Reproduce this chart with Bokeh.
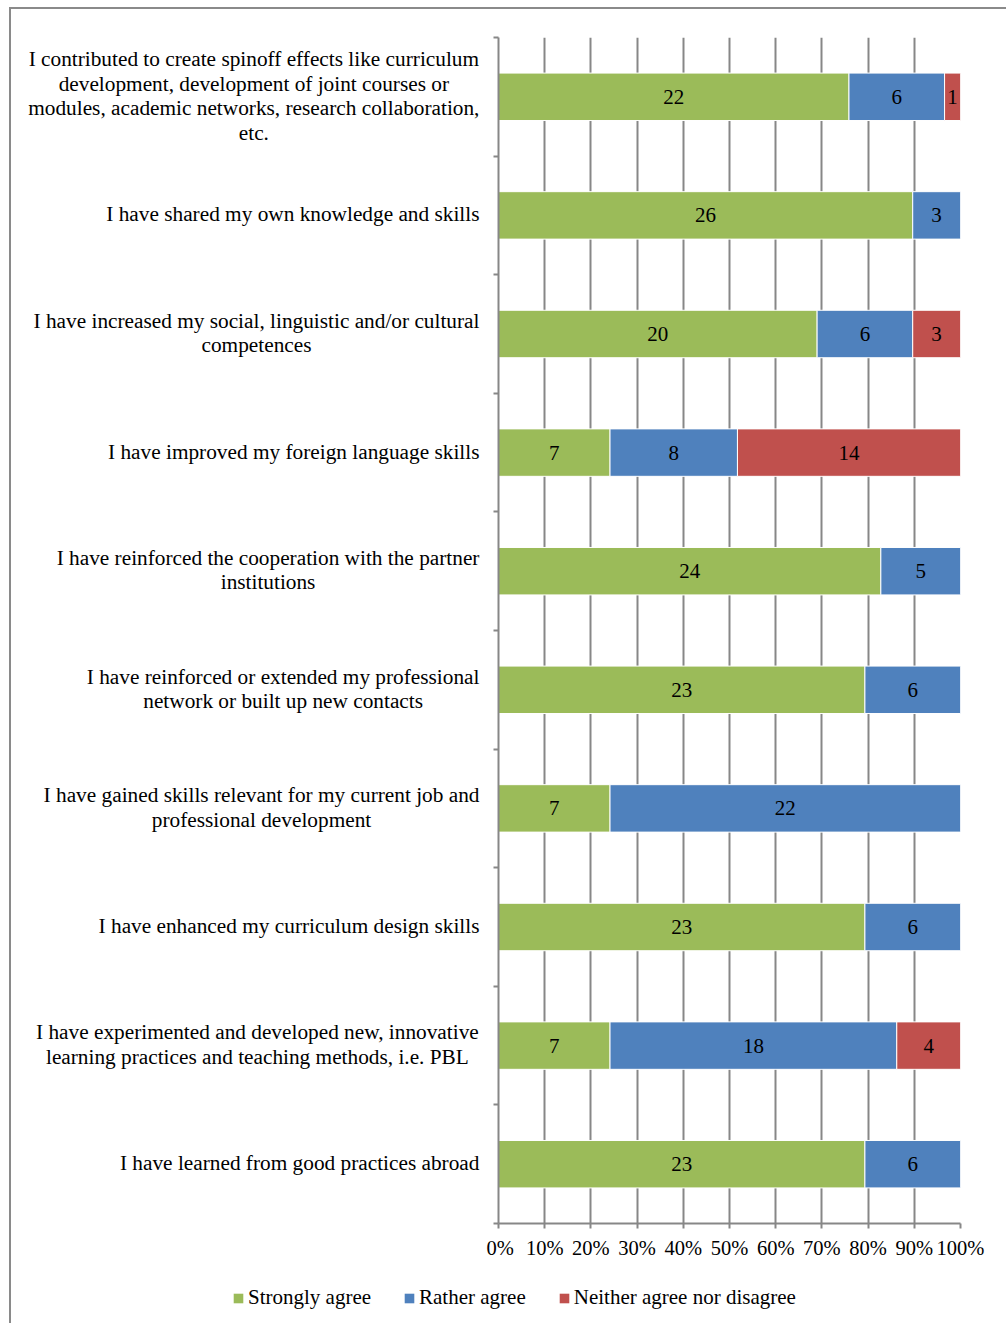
from bokeh.plotting import figure
from bokeh.layouts import row, column
from bokeh.models import (Range1d, FixedTicker, LinearAxis, Legend, LegendItem,
                          ColumnDataSource, NumeralTickFormatter)
from bokeh.core.properties import value
from bokeh.embed import file_html
from bokeh.resources import INLINE

categories = [
    "I contributed to create spinoff effects like curriculum\ndevelopment, development of joint courses or\nmodules, academic networks, research collaboration,\netc.",
    "I have shared my own knowledge and skills",
    "I have increased my social, linguistic and/or cultural\ncompetences",
    "I have improved my foreign language skills",
    "I have reinforced the cooperation with the partner\ninstitutions",
    "I have reinforced or extended my professional\nnetwork or built up new contacts",
    "I have gained skills relevant for my current job and\nprofessional development",
    "I have enhanced my curriculum design skills",
    "I have experimented and developed new, innovative\nlearning practices and teaching methods, i.e. PBL",
    "I have learned from good practices abroad",
]
strongly_agree = [22, 26, 20, 7, 24, 23, 7, 23, 7, 23]
rather_agree = [6, 3, 6, 8, 5, 6, 22, 6, 18, 6]
neither = [1, 0, 3, 14, 0, 0, 0, 0, 4, 0]
series_names = ["Strongly agree", "Rather agree", "Neither agree nor disagree"]
colors = ["#9BBB59", "#4F81BD", "#C0504D"]
x_ticks = [0, 0.1, 0.2, 0.3, 0.4, 0.5, 0.6, 0.7, 0.8, 0.9, 1.0]

FONT = "Liberation Serif"
LABEL_PX = 21.3
GRID = "#878787"

# Times/Liberation Serif advance widths (per 1000 em) used to centre-justify wrapped labels
_W = dict(zip("abcdefghijklmnopqrstuvwxyz",
              [444, 500, 444, 500, 444, 333, 500, 500, 278, 278, 500, 278, 778,
               500, 500, 500, 500, 333, 389, 278, 500, 500, 722, 500, 500, 444]))
_W.update(dict(zip("ABCDEFGHIJKLMNOPQRSTUVWXYZ",
                   [722, 667, 667, 722, 611, 556, 722, 722, 333, 389, 722, 611, 889,
                    722, 722, 556, 722, 667, 556, 611, 722, 722, 944, 722, 722, 611])))
_W.update({" ": 250, ",": 250, ".": 250, "/": 278, "-": 333})


def text_width(s, px):
    return sum(_W.get(ch, 500) for ch in s) * px / 1000.0


n = len(categories)
ypos = [2 * i + 1 for i in range(n)]
totals = [a + b + c for a, b, c in zip(strongly_agree, rather_agree, neither)]
series = [strongly_agree, rather_agree, neither]

TOP, BOTTOM = 28, 50
FRAME_H = 1186
ROW_H = TOP + FRAME_H + BOTTOM
yr = Range1d(2 * n, 0)

# ---- main chart
p = figure(width=520, height=ROW_H, output_backend="svg", toolbar_location=None,
           x_range=Range1d(0, 1), y_range=yr,
           min_border_left=12, min_border_right=46, min_border_top=TOP,
           min_border_bottom=BOTTOM, x_axis_location=None, y_axis_location=None)
p.outline_line_color = None
p.ygrid.visible = False

sources = []
left = [0.0] * n
for vals, name, col in zip(series, series_names, colors):
    frac = [v / t for v, t in zip(vals, totals)]
    right = [l + f for l, f in zip(left, frac)]
    keep = [i for i, v in enumerate(vals) if v > 0]
    src = ColumnDataSource(dict(y=[ypos[i] for i in keep], left=[left[i] for i in keep],
                                right=[right[i] for i in keep],
                                mid=[(left[i] + right[i]) / 2 for i in keep],
                                lab=[str(vals[i]) for i in keep]))
    p.hbar(y="y", left="left", right="right", height=0.8, source=src,
           fill_color=col, line_color="white", line_width=1)
    p.text(x="mid", y="y", text="lab", source=src, text_align="center",
           text_baseline="middle", text_font=value(FONT),
           text_font_size="21px", text_color="black")
    sources.append(src)
    left = right

p.xgrid.ticker = FixedTicker(ticks=x_ticks)
p.xgrid.grid_line_color = GRID
p.xgrid.grid_line_width = 2

xaxis = LinearAxis(ticker=FixedTicker(ticks=x_ticks),
                   formatter=NumeralTickFormatter(format="0%"))
xaxis.axis_line_color = GRID
xaxis.axis_line_width = 2
xaxis.major_tick_line_color = GRID
xaxis.major_tick_line_width = 2
xaxis.major_tick_out = 5
xaxis.major_tick_in = 0
xaxis.minor_tick_line_color = None
xaxis.major_label_text_font = FONT
xaxis.major_label_text_font_size = "20.5px"
xaxis.major_label_text_color = "black"
xaxis.major_label_standoff = 8
p.add_layout(xaxis, "below")

yaxis = LinearAxis(ticker=FixedTicker(ticks=[], minor_ticks=list(range(0, 2 * n + 1, 2))))
yaxis.major_label_standoff = 0
yaxis.axis_line_color = GRID
yaxis.axis_line_width = 2
yaxis.major_tick_line_color = None
yaxis.major_tick_out = 0
yaxis.major_tick_in = 0
yaxis.minor_tick_line_color = GRID
yaxis.minor_tick_line_width = 2
yaxis.minor_tick_out = 5
yaxis.minor_tick_in = 0
p.add_layout(yaxis, "left")

# ---- category labels (centre-justified lines, block right-aligned against the axis)
lab = figure(width=475, height=ROW_H, output_backend="svg", toolbar_location=None,
             x_range=Range1d(0, 1), y_range=yr,
             min_border_left=0, min_border_right=0, min_border_top=TOP,
             min_border_bottom=BOTTOM, x_axis_location=None, y_axis_location=None)
lab.outline_line_color = None
lab.grid.visible = False
line_gap = 24.5 * (2 * n) / FRAME_H
lx, ly, lt, loff = [], [], [], []
for yc, cat in zip(ypos, categories):
    lines = cat.split("\n")
    block_w = max(text_width(s, LABEL_PX) for s in lines)
    k = len(lines)
    for j, s in enumerate(lines):
        lx.append(1)
        ly.append(yc + (j - (k - 1) / 2) * line_gap)
        lt.append(s)
        loff.append(-(7 + block_w / 2))
lab.text(x="x", y="y", text="t", x_offset="off", y_offset=-1,
         source=ColumnDataSource(dict(x=lx, y=ly, t=lt, off=loff)),
         text_align="center", text_baseline="middle", text_font=value(FONT),
         text_font_size=f"{LABEL_PX}px", text_color="black")

# ---- legend strip (swatches come from hidden copies of the bar renderers)
g = figure(width=995, height=50, output_backend="svg", toolbar_location=None,
           x_range=Range1d(0, 1), y_range=Range1d(2 * n, 0),
           min_border_left=0, min_border_right=0, min_border_top=0,
           min_border_bottom=0, x_axis_location=None, y_axis_location=None)
g.outline_line_color = None
g.grid.visible = False
leg_r = []
for src, col in zip(sources, colors):
    leg_r.append(g.hbar(y="y", left="left", right="right", height=0.8, source=src,
                        fill_color=col, line_color=None, visible=False))
legend = Legend(items=[LegendItem(label=nm, renderers=[r]) for nm, r in zip(series_names, leg_r)],
                orientation="horizontal", location=(221, 13),
                label_text_font=FONT, label_text_font_size="21px", label_text_color="black",
                glyph_width=12, glyph_height=12, label_standoff=4, spacing=32,
                border_line_color=None, background_fill_alpha=0, padding=0, margin=0)
g.add_layout(legend, "center")

layout = column(row(lab, p), g,
                styles={"border-left": "2px solid #8a8a8a", "border-top": "2px solid #8a8a8a",
                        "margin-left": "9px", "margin-top": "7px"})

open("out.html", "w").write(file_html(layout, INLINE))
